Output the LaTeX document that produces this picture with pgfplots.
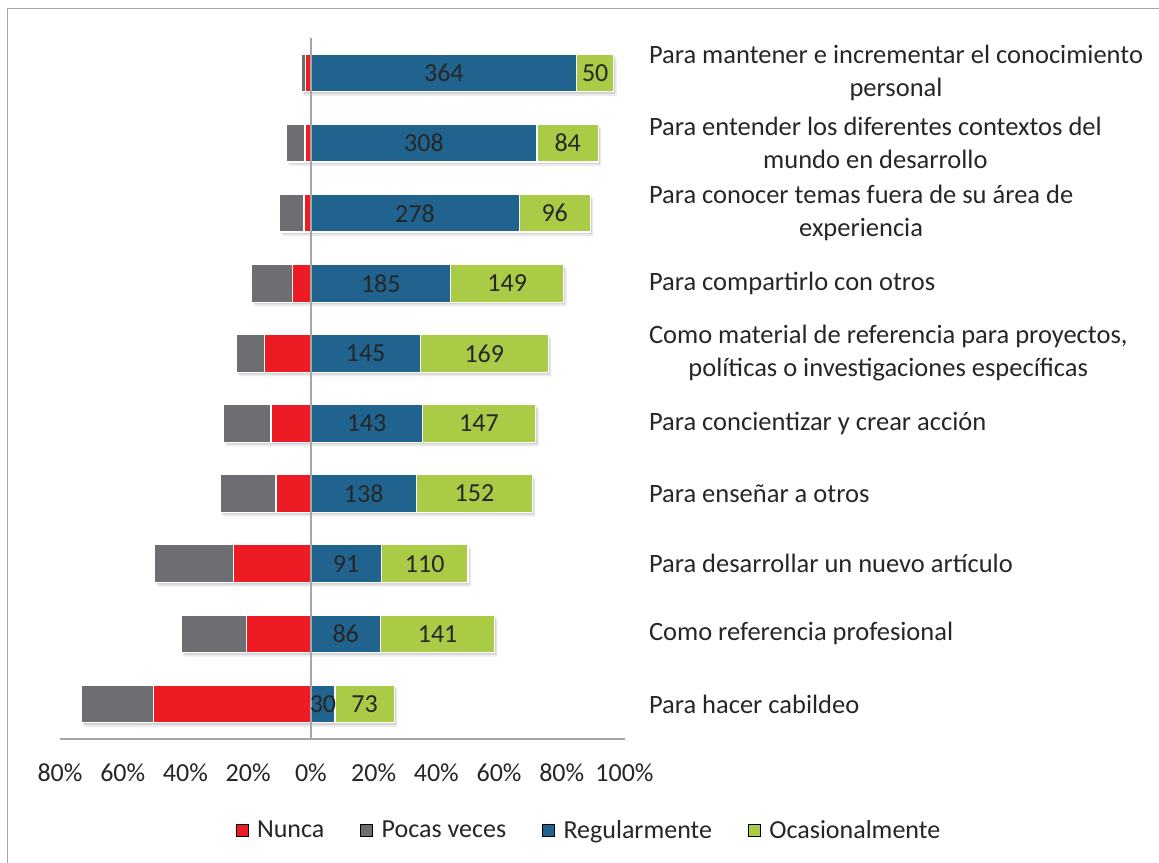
\documentclass[border=0pt]{standalone}
\usepackage{fontspec}
\setmainfont{Carlito}
\usepackage{pgfplots}
\pgfplotsset{compat=1.18}
\usepackage{pgfplotstable}

\definecolor{nunca}{HTML}{ED1C24}
\definecolor{pocas}{HTML}{6D6E71}
\definecolor{regular}{HTML}{20638F}
\definecolor{ocasional}{HTML}{A9CB46}
\definecolor{ejes}{HTML}{A6A6A6}
\definecolor{texto}{HTML}{262626}

\newcommand{\fs}{\fontsize{26bp}{33bp}\selectfont}
\newcommand{\fl}{\fontsize{26.5bp}{33bp}\selectfont}

% percentages per segment (each row adds to ~100), counts for the labels
\pgfplotstableread{
row nunca pocas regular ocasional nreg nocas
10 1.7  1.4  84.8 11.7 364 50
9  1.9  5.9  72.1 19.6 308 84
8  2.2  7.8  66.4 22.7 278 96
7  5.9  13.0 44.6 36.0 185 149
6  14.9 8.9  34.9 40.8 145 169
5  12.7 15.2 35.5 36.2 143 147
4  11.1 17.9 33.7 36.9 138 152
3  24.8 25.0 22.5 27.6 91  110
2  20.5 20.7 22.2 36.4 86  141
1  50.1 23.1 7.7  18.9 30  73
}\datos

\pgfplotsset{
    sombra/.style={preaction={draw=none, fill=black, opacity=0.10,
        transform canvas={xshift=1.5bp, yshift=-2bp}},
        preaction={draw=none, fill=black, opacity=0.08,
        transform canvas={xshift=3bp, yshift=-4bp}}},
}

\begin{document}
\begin{tikzpicture}
\useasboundingbox (-60bp,-124bp) rectangle (1099bp,739bp);
\draw[ejes, line width=1.3bp] (-52.5bp,730.5bp) rectangle (1140bp,-160bp);
\begin{axis}[
    at={(0,0)}, anchor=south west,
    scale only axis, width=564.5bp, height=701bp,
    xmin=-80, xmax=100, ymin=0.5, ymax=10.5,
    bar width=37.7bp,
    axis x line*=bottom, axis y line*=right,
    x axis line style={ejes, line width=1.5bp},
    y axis line style={draw=none},
    axis on top,
    major tick length=0pt,
    xtick={-80,-60,...,100},
    xticklabels={80\%,60\%,40\%,20\%,0\%,20\%,40\%,60\%,80\%,100\%},
    xticklabel style={font=\fs, text=texto, yshift=-21bp},
    extra x ticks={0}, extra x tick labels={},
    extra x tick style={grid=major, major grid style={ejes, line width=1.5bp}},
    ytick={1,...,10},
    yticklabels={
        {Para hacer cabildeo},
        {Como referencia profesional},
        {Para desarrollar un nuevo artículo},
        {Para enseñar a otros},
        {Para concientizar y crear acción},
        {Como material de referencia para proyectos,\\políticas o investigaciones específicas},
        {Para compartirlo con otros},
        {Para conocer temas fuera de su área de\\experiencia},
        {Para entender los diferentes contextos del\\mundo en desarrollo},
        {Para mantener e incrementar el conocimiento\\personal}},
    yticklabel style={font=\fl, text=texto, align=center, anchor=west, xshift=21bp},
    legend style={at={(0.937,-0.13)}, anchor=center, draw=none, font=\fs,
        text=texto, legend columns=4,
        /tikz/every even column/.append style={column sep=34bp},
        /tikz/every odd column/.append style={column sep=7bp}},
    legend image code/.code={\fill[#1] (0bp,-6bp) rectangle (12bp,6bp);},
]
\addlegendimage{fill=nunca}\addlegendentry{Nunca}
\addlegendimage{fill=pocas}\addlegendentry{Pocas veces}
\addlegendimage{fill=regular}\addlegendentry{Regularmente}
\addlegendimage{fill=ocasional}\addlegendentry{Ocasionalmente}

% left side: gray drawn to the full extent, red over it next to zero
\addplot[xbar, bar shift=0pt, fill=pocas, draw=white, line width=1.2bp, sombra, forget plot]
    table[x expr=-\thisrow{nunca}-\thisrow{pocas}, y=row]{\datos};
\addplot[xbar, bar shift=0pt, fill=nunca, draw=white, line width=1.2bp, forget plot]
    table[x expr=-\thisrow{nunca}, y=row]{\datos};
% right side: green to the full extent, blue over it next to zero
\addplot[xbar, bar shift=0pt, fill=ocasional, draw=white, line width=1.2bp, sombra, forget plot]
    table[x expr=\thisrow{regular}+\thisrow{ocasional}, y=row]{\datos};
\addplot[xbar, bar shift=0pt, fill=regular, draw=white, line width=1.2bp, forget plot]
    table[x expr=\thisrow{regular}, y=row]{\datos};

% counts in the middle of each segment
\addplot[only marks, mark=none, forget plot, nodes near coords,
    point meta=explicit symbolic,
    every node near coord/.style={anchor=center, font=\fs, text=texto}]
    table[x expr=\thisrow{regular}/2, y=row, meta=nreg]{\datos};
\addplot[only marks, mark=none, forget plot, nodes near coords,
    point meta=explicit symbolic,
    every node near coord/.style={anchor=center, font=\fs, text=texto}]
    table[x expr=\thisrow{regular}+\thisrow{ocasional}/2, y=row, meta=nocas]{\datos};
\end{axis}
\end{tikzpicture}
\end{document}
